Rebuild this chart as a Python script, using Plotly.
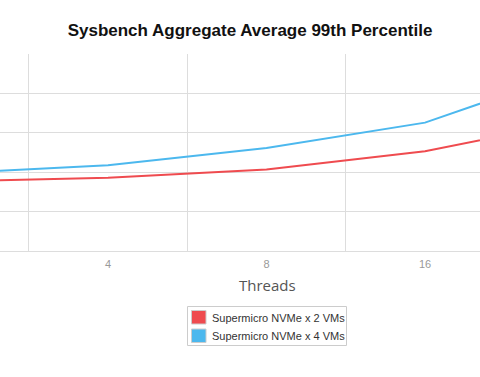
import plotly.graph_objects as go

threads = ["2", "4", "8", "16", "32"]
vms2 = [8.85, 9.28, 10.34, 12.66, 16.71]
vms4 = [9.84, 10.89, 13.08, 16.29, 23.24]
names = ["Supermicro NVMe x 2 VMs", "Supermicro NVMe x 4 VMs"]
colors = ["#ef4b4f", "#4cb8ee"]

W, H = 480, 377
top, bottom = 54, 251
ph = bottom - top


def py(ypix):
    return (bottom - ypix) / ph


def px(xpix):
    return xpix / W


idx = list(range(len(threads)))
fig = go.Figure()
for vals, name, col in [(vms2, names[0], colors[0]), (vms4, names[1], colors[1])]:
    fig.add_trace(go.Scatter(x=idx, y=vals, mode="lines", name=name,
                             line=dict(color=col, width=2),
                             showlegend=False, hoverinfo="skip"))

shapes = [dict(type="rect", xref="paper", yref="paper",
               x0=px(187.5), x1=px(346.5), y0=py(306.5), y1=py(345.5),
               line=dict(color="#cccccc", width=1), fillcolor="white", layer="below")]
annotations = []
for i, (name, col) in enumerate(zip(names, colors)):
    y0 = 310.5 + i * 18.5
    shapes.append(dict(type="rect", xref="paper", yref="paper",
                       x0=px(191.5), x1=px(206), y0=py(y0), y1=py(y0 + 13.5),
                       line=dict(color="#cccccc", width=1), fillcolor=col))
    annotations.append(dict(text=name, x=px(209.5), y=py(y0 + 7), xref="paper", yref="paper",
                            showarrow=False, xanchor="left", yanchor="middle",
                            font=dict(family="Liberation Sans, Arial", size=11, color="#333333")))
annotations.append(dict(text="Threads", x=px(267.5), y=py(285), xref="paper", yref="paper",
                        showarrow=False, xanchor="center", yanchor="middle",
                        font=dict(family="Open Sans", size=15, color="#555555")))

fig.update_layout(
    width=W, height=H,
    margin=dict(l=0, r=0, t=top, b=H - bottom, pad=0, autoexpand=False),
    paper_bgcolor="white", plot_bgcolor="white",
    showlegend=False,
    title=dict(text="<b>Sysbench Aggregate Average 99th Percentile</b>",
               x=250 / W, xanchor="center", y=1 - 30 / H, yanchor="middle",
               font=dict(family="Liberation Sans, Arial", size=17, color="#111111")),
    xaxis=dict(range=[1 - 108 / 158.5, 1 + 372 / 158.5], tickmode="array",
               tickvals=idx, ticktext=threads, showgrid=False, zeroline=False,
               showline=False, ticks="", automargin=False, ticklabelstandoff=5,
               tickfont=dict(family="Liberation Sans, Arial", size=11, color="#999999"),
               minor=dict(tick0=0.5, dtick=1, showgrid=True, gridcolor="#dddddd", gridwidth=1, ticks="")),
    yaxis=dict(range=[0, 25], dtick=5, showgrid=True, gridcolor="#dddddd", gridwidth=1,
               showticklabels=False, zeroline=True, zerolinecolor="#dddddd", zerolinewidth=1,
               showline=False, ticks="", automargin=False),
    shapes=shapes,
    annotations=annotations,
)
fig.write_html("out.html", config={"displayModeBar": False},
               post_script="document.body.style.margin='0';document.body.style.overflow='hidden';")
